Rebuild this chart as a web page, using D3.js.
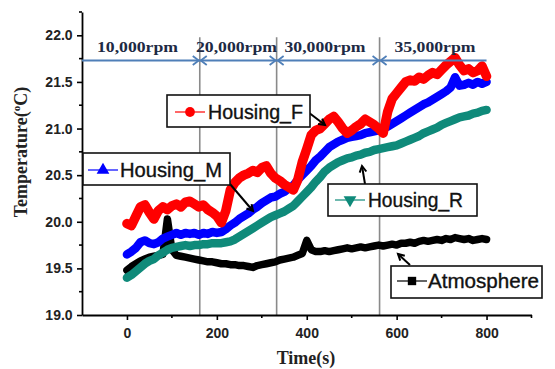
<!DOCTYPE html>
<html><head><meta charset="utf-8">
<script src="https://cdn.jsdelivr.net/npm/d3@7"></script>
<style>body{margin:0;background:#fff} svg{display:block}</style>
</head><body><svg id="c" width="555" height="369"></svg>
<script>
const times = [0,10,20,30,40,50,60,70,80,90,100,110,120,130,140,150,160,170,180,190,200,210,220,230,240,250,260,270,280,290,300,310,320,330,340,350,360,370,380,390,400,410,420,430,440,450,460,470,480,490,500,510,520,530,540,550,560,570,580,590,600,610,620,630,640,650,660,670,680,690,700,710,720,730,740,750,760,770,780,790,800];
const housingF = [19.98,19.96,20.06,20.16,20.18,20.10,20.03,20.12,20.16,20.13,20.17,20.19,20.16,20.21,20.22,20.19,20.16,20.18,20.13,20.10,20.06,19.99,20.12,20.34,20.42,20.47,20.50,20.52,20.55,20.53,20.58,20.60,20.52,20.47,20.44,20.40,20.37,20.34,20.45,20.64,20.78,20.93,20.98,21.00,21.05,21.10,21.13,21.07,21.00,20.95,20.98,21.02,21.05,21.10,21.07,21.04,21.00,20.95,21.18,21.32,21.38,21.44,21.50,21.52,21.51,21.55,21.53,21.57,21.60,21.58,21.63,21.68,21.72,21.76,21.68,21.62,21.64,21.60,21.62,21.67,21.56];
const housingM = [19.65,19.68,19.72,19.78,19.80,19.77,19.76,19.78,19.82,19.84,19.86,19.88,19.86,19.88,19.87,19.88,19.86,19.88,19.87,19.89,19.88,19.89,19.92,19.96,19.99,20.03,20.06,20.09,20.13,20.16,20.20,20.23,20.26,20.27,20.30,20.32,20.36,20.39,20.45,20.50,20.55,20.60,20.66,20.70,20.75,20.80,20.83,20.86,20.88,20.90,20.91,20.92,20.93,20.95,20.96,20.97,20.98,21.00,21.02,21.05,21.08,21.11,21.14,21.17,21.20,21.23,21.26,21.28,21.31,21.34,21.37,21.40,21.44,21.55,21.46,21.47,21.49,21.47,21.50,21.48,21.50];
const housingR = [19.40,19.43,19.47,19.51,19.55,19.58,19.60,19.64,19.67,19.70,19.72,19.73,19.74,19.75,19.74,19.75,19.75,19.76,19.76,19.77,19.77,19.77,19.78,19.79,19.81,19.84,19.87,19.90,19.93,19.96,19.99,20.02,20.05,20.07,20.09,20.11,20.14,20.17,20.22,20.27,20.32,20.37,20.43,20.48,20.54,20.58,20.61,20.64,20.66,20.68,20.69,20.71,20.72,20.74,20.75,20.77,20.78,20.79,20.80,20.81,20.82,20.84,20.86,20.88,20.90,20.92,20.95,20.97,20.99,21.01,21.04,21.06,21.08,21.10,21.12,21.13,21.14,21.16,21.17,21.19,21.20];
const atmosphere = [19.48,19.52,19.55,19.58,19.60,19.62,19.63,19.64,19.65,20.03,19.70,19.64,19.63,19.62,19.61,19.60,19.59,19.58,19.57,19.57,19.56,19.55,19.55,19.54,19.54,19.53,19.53,19.52,19.51,19.53,19.54,19.55,19.56,19.57,19.59,19.60,19.61,19.62,19.64,19.66,19.80,19.70,19.68,19.68,19.69,19.68,19.69,19.70,19.71,19.72,19.71,19.72,19.73,19.72,19.73,19.74,19.75,19.74,19.75,19.76,19.75,19.77,19.77,19.78,19.77,19.79,19.80,19.79,19.80,19.81,19.80,19.82,19.81,19.83,19.82,19.81,19.82,19.80,19.81,19.82,19.81];
const xTicks = [0,200,400,600,800];
const xMinor = [100,300,500,700,900];
const yTicks = [19.0,19.5,20.0,20.5,21.0,21.5,22.0];
const yMinor = [19.25,19.75,20.25,20.75,21.25,21.75,22.25];
const boundaries = [162,333,562];
const rpmSegments = [[-100,162],[162,333],[333,562],[562,800]];
const rpmLabels = ["10,000rpm","20,000rpm","30,000rpm","35,000rpm"];
const rpmLevel = 21.73;
const seriesNames = ["Atmosphere","Housing_R","Housing_M","Housing_F"];

const svg = d3.select("#c");
const x = d3.scaleLinear().domain([-100,900]).range([82,531.5]);
const y = d3.scaleLinear().domain([19,22.25]).range([315,12]);

const series = [
  {name:"Atmosphere", values:atmosphere, color:"#000000", w:7.5},
  {name:"Housing_R", values:housingR, color:"#0f8a7a", w:8.5},
  {name:"Housing_M", values:housingM, color:"#0000ff", w:8.5},
  {name:"Housing_F", values:housingF, color:"#ff0000", w:9.5}
];

// boundary lines
svg.selectAll("line.bnd").data(boundaries).join("line")
  .attr("x1",d=>x(d)).attr("x2",d=>x(d)).attr("y1",y(21.98)).attr("y2",y(19))
  .attr("stroke","#8a8a8a").attr("stroke-width",1.6);

// data lines
const line = d3.line().x((d,i)=>x(times[i])).y(d=>y(d)).curve(d3.curveLinear);
series.forEach(s=>{
  svg.append("path").attr("d",line(s.values)).attr("fill","none")
    .attr("stroke",s.color).attr("stroke-width",s.w)
    .attr("stroke-linejoin","round").attr("stroke-linecap","round");
});

// axes
const axisG = svg.append("g").attr("font-family","'Liberation Sans',Arial,sans-serif");
const xa = axisG.append("g").attr("transform",`translate(0,${y(19)})`)
  .call(d3.axisBottom(x).tickValues(xTicks).tickSize(5).tickSizeOuter(0).tickFormat(d3.format("d")));
xa.select(".domain").attr("stroke-width",1.8);
xa.selectAll(".tick line").attr("stroke-width",1.6);
xa.selectAll(".tick text").attr("font-size",14).attr("font-weight","bold").attr("fill","#222").attr("dy","1.05em");
axisG.append("g").attr("transform",`translate(0,${y(19)})`).selectAll("line").data(xMinor).join("line")
  .attr("x1",d=>x(d)).attr("x2",d=>x(d)).attr("y1",0).attr("y2",3).attr("stroke","#000").attr("stroke-width",1.6);

const ya = axisG.append("g").attr("transform",`translate(${x(-100)},0)`)
  .call(d3.axisLeft(y).tickValues(yTicks).tickSize(5).tickSizeOuter(0).tickFormat(d3.format(".1f")));
ya.select(".domain").attr("stroke-width",1.8);
ya.selectAll(".tick line").attr("stroke-width",1.6);
ya.selectAll(".tick text").attr("font-size",14).attr("font-weight","bold").attr("fill","#222").attr("dx","-0.1em");
axisG.append("g").attr("transform",`translate(${x(-100)},0)`).selectAll("line").data(yMinor).join("line")
  .attr("x1",0).attr("x2",-3).attr("y1",d=>y(d)).attr("y2",d=>y(d)).attr("stroke","#000").attr("stroke-width",1.6);

// axis titles
svg.append("text").attr("x",306).attr("y",364).attr("text-anchor","middle")
  .attr("font-family","'Liberation Serif','Times New Roman',serif").attr("font-weight","bold")
  .attr("font-size",18).attr("fill","#222").text("Time(s)");
const yt = svg.append("text").attr("transform","translate(27,152) rotate(-90)").attr("text-anchor","middle")
  .attr("font-family","'Liberation Serif','Times New Roman',serif").attr("font-weight","bold")
  .attr("font-size",18).attr("fill","#222");
yt.append("tspan").text("Temperature(");
yt.append("tspan").text("o").attr("font-size",11).attr("dy",-7);
yt.append("tspan").text("C)").attr("dy",7);

// rpm arrows
const blue = "#4f7fb8";
const ay = y(rpmLevel);
svg.append("line").attr("x1",x(-100)).attr("x2",x(800)).attr("y1",ay).attr("y2",ay)
  .attr("stroke",blue).attr("stroke-width",1.8);
function head(px, dir){ // dir +1 pointing right, -1 pointing left
  svg.append("path").attr("d",`M${px-dir*7},${ay-4.5} L${px-dir*1},${ay} L${px-dir*7},${ay+4.5}`)
    .attr("fill","none").attr("stroke",blue).attr("stroke-width",1.8);
}
rpmSegments.forEach((s,i)=>{
  if(i>0) head(x(s[0]),-1);
  if(i<rpmSegments.length-1) head(x(s[1]),1);
});
svg.selectAll("text.rpm").data(rpmSegments).join("text")
  .attr("x",(d,i)=>[137.5,236.5,325,435][i]).attr("y",52).attr("text-anchor","middle")
  .attr("font-family","'Liberation Serif','Times New Roman',serif").attr("font-weight","bold")
  .attr("font-size",15).attr("fill","#1d2a44")
  .attr("textLength",81).attr("lengthAdjust","spacingAndGlyphs")
  .text((d,i)=>rpmLabels[i]);

// callout arrows
const callouts = [
  [308,112,325,125],[230,184,253,211],[365,184,362,166],[410,265,398,254]
];
callouts.forEach(c=>{
  const [x1,y1,x2,y2]=c;
  svg.append("line").attr("x1",x1).attr("y1",y1).attr("x2",x2).attr("y2",y2).attr("stroke","#000").attr("stroke-width",2);
  const a=Math.atan2(y2-y1,x2-x1), L=7, sp=0.5;
  svg.append("path").attr("d",`M${x2-L*Math.cos(a-sp)},${y2-L*Math.sin(a-sp)} L${x2},${y2} L${x2-L*Math.cos(a+sp)},${y2-L*Math.sin(a+sp)}`)
    .attr("fill","none").attr("stroke","#000").attr("stroke-width",2);
});

// legend boxes
const legends = [
  {name:"Housing_F", color:"#ff0000", shape:d3.symbolCircle, box:[167,95,143,32], sy:112, lx:175, tx:208, tl:95},
  {name:"Housing_M", color:"#0000ff", shape:d3.symbolTriangle, box:[83,153,147,32], sy:170, lx:88, tx:120, tl:102},
  {name:"Housing_R", color:"#0f8a7a", shape:d3.symbolTriangle, down:true, box:[328,184,149,32], sy:200, lx:335, tx:368, tl:95},
  {name:"Atmosphere", color:"#000000", shape:d3.symbolSquare, box:[391,266,151,32], sy:281, lx:397, tx:428, tl:111}
];
legends.forEach(l=>{
  const [bx,by,bw,bh]=l.box;
  svg.append("rect").attr("x",bx).attr("y",by).attr("width",bw).attr("height",bh)
    .attr("fill","#fff").attr("stroke","#111").attr("stroke-width",1.6);
  svg.append("line").attr("x1",l.lx).attr("x2",l.lx+30).attr("y1",l.sy).attr("y2",l.sy)
    .attr("stroke",l.color).attr("stroke-width",1.2);
  svg.append("path").attr("d",d3.symbol().type(l.shape).size(l.shape===d3.symbolCircle?75:70)())
    .attr("transform",`translate(${l.lx+15},${l.sy})${l.down?" rotate(180)":""}`).attr("fill",l.color);
  svg.append("text").attr("x",l.tx).attr("y",l.sy+7).attr("font-family","'Liberation Sans',Arial,sans-serif")
    .attr("font-size",19.5).attr("fill","#111").attr("stroke","#111").attr("stroke-width",0.35)
    .attr("textLength",l.tl).attr("lengthAdjust","spacingAndGlyphs").text(l.name);
});
</script></body></html>
